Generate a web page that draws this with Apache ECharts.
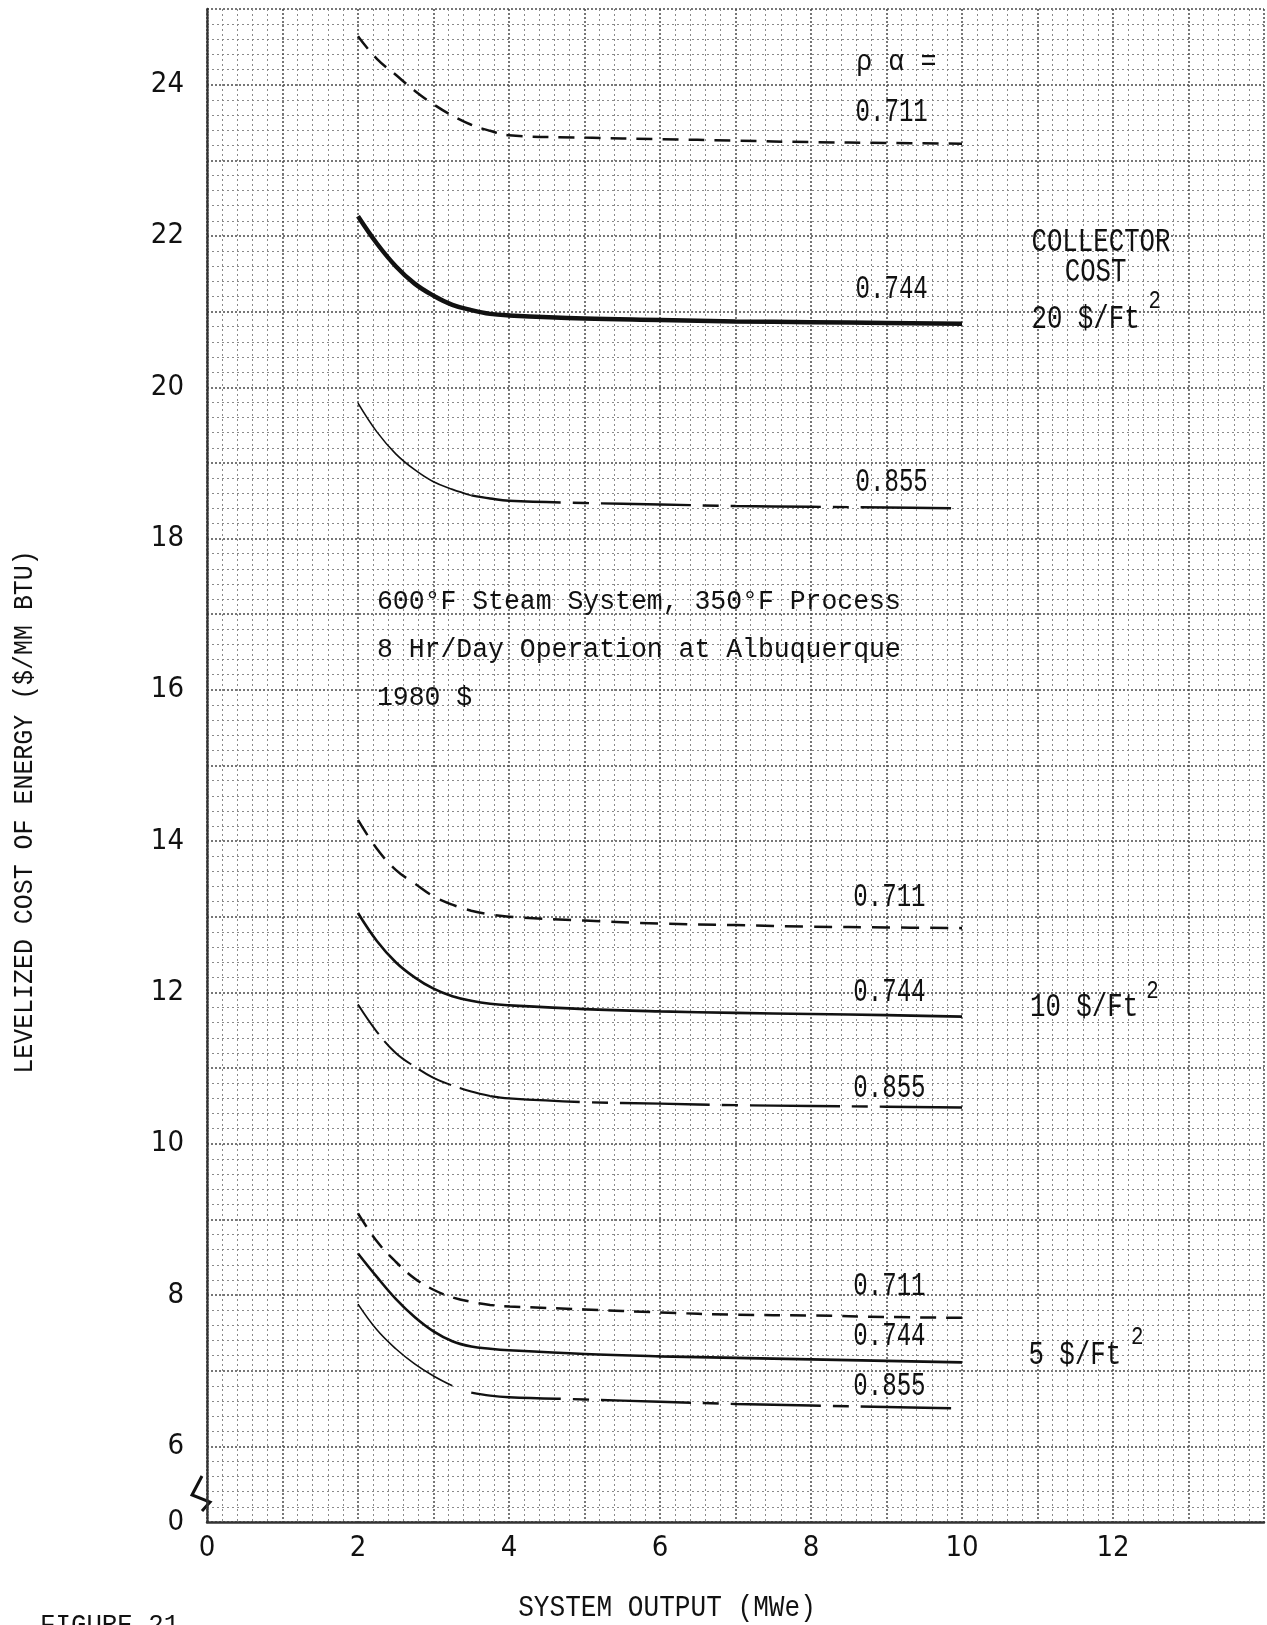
<!DOCTYPE html>
<html>
<head>
<meta charset="utf-8">
<script src="https://cdn.jsdelivr.net/npm/echarts@6/dist/echarts.min.js"></script>
<style>
html,body{margin:0;padding:0;background:#fff;}
#chart{width:1267px;height:1625px;}
</style>
</head>
<body>
<div id="chart"></div>
<script>
// ---- Data ----
const systemOutput = [2, 2.25, 2.5, 2.75, 3, 3.25, 3.5, 3.75, 4, 5, 6, 7, 8, 9, 10];

// Collector cost 20 $/ft2
const cost20_rho711 = [24.64, 24.34, 24.13, 23.92, 23.74, 23.59, 23.47, 23.39, 23.33, 23.30, 23.28, 23.26, 23.24, 23.23, 23.22];
const cost20_rho744 = [22.26, 21.90, 21.60, 21.37, 21.21, 21.09, 21.02, 20.97, 20.95, 20.91, 20.89, 20.87, 20.86, 20.85, 20.84];
const cost20_rho855 = [19.79, 19.41, 19.12, 18.91, 18.75, 18.65, 18.57, 18.53, 18.50, 18.47, 18.45, 18.43, 18.42, 18.41, 18.40];

// Collector cost 10 $/ft2
const cost10_rho711 = [14.28, 13.90, 13.62, 13.44, 13.27, 13.16, 13.08, 13.03, 13.00, 12.95, 12.91, 12.89, 12.87, 12.86, 12.85];
const cost10_rho744 = [13.05, 12.68, 12.40, 12.20, 12.05, 11.95, 11.89, 11.85, 11.83, 11.78, 11.75, 11.73, 11.715, 11.70, 11.68];
const cost10_rho855 = [11.84, 11.48, 11.20, 11.02, 10.87, 10.77, 10.69, 10.63, 10.60, 10.55, 10.53, 10.51, 10.50, 10.49, 10.48];

// Collector cost 5 $/ft2
const cost5_rho711 = [9.08, 8.71, 8.44, 8.22, 8.07, 7.97, 7.91, 7.87, 7.85, 7.81, 7.77, 7.74, 7.73, 7.71, 7.70];
const cost5_rho744 = [8.55, 8.24, 7.95, 7.71, 7.52, 7.39, 7.32, 7.29, 7.27, 7.22, 7.19, 7.17, 7.15, 7.13, 7.11];
const cost5_rho855 = [7.88, 7.54, 7.29, 7.09, 6.93, 6.80, 6.71, 6.67, 6.65, 6.62, 6.59, 6.56, 6.54, 6.52, 6.50];

// Axis tick labels
const xTickLabels = ['0', '2', '4', '6', '8', '10', '12'];
const yTickLabels = ['0', '6', '8', '10', '12', '14', '16', '18', '20', '22', '24'];
const yBreakValue = 5;   // the bottom of the broken axis, labelled "0"

const xAxisTitle = 'SYSTEM OUTPUT (MWe)';
const yAxisTitle = 'LEVELIZED COST OF ENERGY ($/MM BTU)';
const figureCaption = 'FIGURE 21';

// ---- Annotation texts (anchored in data coordinates) ----
const annotations = [
  {t: 'ρ α =', x: 8.60, y: 24.30, s: 'rho'},
  {t: '0.711', x: 8.59, y: 23.64, s: 'curve'},
  {t: '0.744', x: 8.59, y: 21.30, s: 'curve'},
  {t: '0.855', x: 8.59, y: 18.75, s: 'curve'},
  {t: 'COLLECTOR', x: 10.92, y: 21.92, s: 'cost'},
  {t: 'COST', x: 11.36, y: 21.52, s: 'cost'},
  {t: '20 $/Ft', x: 10.92, y: 20.90, s: 'cost'},
  {t: '2', x: 12.47, y: 21.14, s: 'sup'},
  {t: '600°F Steam System, 350°F Process', x: 2.25, y: 17.16, s: 'desc'},
  {t: '8 Hr/Day Operation at Albuquerque', x: 2.25, y: 16.53, s: 'desc'},
  {t: '1980 $', x: 2.25, y: 15.90, s: 'desc'},
  {t: '0.711', x: 8.56, y: 13.26, s: 'curve'},
  {t: '0.744', x: 8.56, y: 12.00, s: 'curve'},
  {t: '0.855', x: 8.56, y: 10.73, s: 'curve'},
  {t: '10 $/Ft', x: 10.90, y: 11.80, s: 'cost'},
  {t: '2', x: 12.44, y: 12.02, s: 'sup'},
  {t: '0.711', x: 8.56, y: 8.11, s: 'curve'},
  {t: '0.744', x: 8.56, y: 7.45, s: 'curve'},
  {t: '0.855', x: 8.56, y: 6.80, s: 'curve'},
  {t: '5 $/Ft', x: 10.88, y: 7.20, s: 'cost'},
  {t: '2', x: 12.24, y: 7.45, s: 'sup'}
];

const MONO = "'Liberation Mono', 'DejaVu Sans Mono', monospace";
const NUMFONT = "'Liberation Sans Narrow', 'DejaVu Sans Condensed', 'Liberation Sans', sans-serif";
const textStyles = {
  rho:   {size: 30, sx: 0.89},
  curve: {size: 33, sx: 0.73},
  cost:  {size: 33, sx: 0.78},
  sup:   {size: 26, sx: 0.80},
  desc:  {size: 27, sx: 0.98}
};

function pts(ys, from, to) {
  return systemOutput.map((x, i) => [x, ys[i]]).filter(p => p[0] >= from && p[0] <= to);
}
function line(data, width, dash) {
  return {
    type: 'line', data: data, showSymbol: false, smooth: 0.4,
    silent: true, animation: false,
    lineStyle: {color: '#111', width: width, type: dash || 'solid', cap: 'butt'}
  };
}
const DASH711 = [16, 10];
const DASH855 = [90, 12, 16, 12];

const series = [
  line(pts(cost20_rho711, 2, 10), 2.5, DASH711),
  line(pts(cost20_rho744, 2, 10), 4.5),
  line(pts(cost20_rho855, 2, 3.5), 1.6),
  line(pts(cost20_rho855, 3.5, 10), 2.4, DASH855),
  line(pts(cost10_rho711, 2, 10), 2.5, [18, 11]),
  line(pts(cost10_rho744, 2, 10), 2.6),
  line(pts(cost10_rho855, 2, 3.75), 2.0, [36, 9]),
  line(pts(cost10_rho855, 3.75, 10), 2.4, DASH855),
  line(pts(cost5_rho711, 2, 10), 2.5, DASH711),
  line(pts(cost5_rho744, 2, 10), 2.6),
  line(pts(cost5_rho855, 2, 3.25), 1.6),
  line(pts(cost5_rho855, 3.5, 10), 2.4, DASH855)
];

const chart = echarts.init(document.getElementById('chart'), null, {renderer: 'canvas'});
const option = {
  backgroundColor: '#ffffff',
  animation: false,
  grid: {left: 207, right: 0, top: 9, bottom: 103, containLabel: false},
  xAxis: {
    type: 'value', min: 0, max: 14, interval: 1,
    axisLine: {show: true, lineStyle: {color: '#333', width: 2.5, type: [2, 1]}},
    axisTick: {show: false},
    axisLabel: {
      margin: 12, color: '#111', fontSize: 29, fontFamily: NUMFONT,
      formatter: v => (v % 2 === 0 && v < 14) ? xTickLabels[v / 2] : ''
    },
    splitLine: {show: true, lineStyle: {color: '#4a4a4a', width: 1.5, type: [2, 2]}},
    minorTick: {show: false, splitNumber: 5},
    minorSplitLine: {show: true, lineStyle: {color: '#8a8a8a', width: 1, type: [2, 3]}}
  },
  yAxis: {
    type: 'value', min: 5, max: 25, interval: 1,
    axisLine: {show: true, lineStyle: {color: '#333', width: 2.5, type: [2, 1]}},
    axisTick: {show: false},
    axisLabel: {
      margin: 23, color: '#111', fontSize: 29, fontFamily: NUMFONT,
      formatter: v => {
        if (v === yBreakValue) return yTickLabels[0];
        if (v % 2 === 0) return yTickLabels[(v - 4) / 2];
        return '';
      }
    },
    splitLine: {show: true, lineStyle: {color: '#4a4a4a', width: 1.5, type: [2, 2]}},
    minorTick: {show: false, splitNumber: 5},
    minorSplitLine: {show: true, lineStyle: {color: '#8a8a8a', width: 1, type: [2, 3]}}
  },
  series: series
};
chart.setOption(option);

function buildGraphics() {
  const g = [];
  annotations.forEach(a => {
    const p = chart.convertToPixel({gridIndex: 0}, [a.x, a.y]);
    const st = textStyles[a.s];
    g.push({
      type: 'text', x: p[0], y: p[1], scaleX: st.sx, scaleY: 1, silent: true,
      style: {text: a.t, x: 0, y: 0, fill: '#111', font: st.size + 'px ' + MONO,
              textAlign: 'left', textVerticalAlign: 'middle'}
    });
  });
  // axis titles and caption
  g.push({
    type: 'text', x: 25, y: 812, rotation: Math.PI / 2, scaleX: 0.89, silent: true,
    style: {text: yAxisTitle, x: 0, y: 0, fill: '#111', font: '28px ' + MONO,
            textAlign: 'center', textVerticalAlign: 'middle'}
  });
  g.push({
    type: 'text', x: 667, y: 1608, scaleX: 0.87, silent: true,
    style: {text: xAxisTitle, x: 0, y: 0, fill: '#111', font: '30px ' + MONO,
            textAlign: 'center', textVerticalAlign: 'middle'}
  });
  g.push({
    type: 'text', x: 40, y: 1612, scaleX: 0.92, silent: true,
    style: {text: figureCaption, x: 0, y: 0, fill: '#111', font: '28px ' + MONO,
            textAlign: 'left', textVerticalAlign: 'top'}
  });
  // axis-break zigzag at the bottom of the y axis
  const b = chart.convertToPixel({gridIndex: 0}, [0, yBreakValue]);
  g.push({
    type: 'polyline', silent: true,
    shape: {points: [[b[0] - 5, b[1] - 46], [b[0] - 15, b[1] - 27], [b[0] + 3, b[1] - 20], [b[0] - 5, b[1] - 11]]},
    style: {stroke: '#111', lineWidth: 3, fill: null}
  });
  chart.setOption({graphic: g});
}
buildGraphics();
</script>
</body>
</html>
